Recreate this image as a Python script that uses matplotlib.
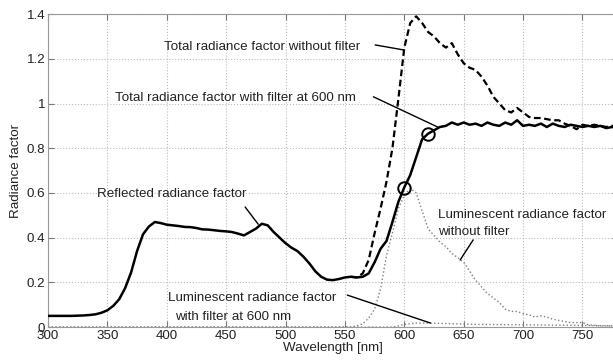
import matplotlib
matplotlib.use("Agg")
import matplotlib.pyplot as plt
from matplotlib.ticker import FormatStrFormatter

plt.rcParams['font.family'] = ['Liberation Sans', 'DejaVu Sans']

# total radiance factor with filter at 600 nm (reflected part below ~565 nm)
wl_total = list(range(300, 785, 5))
total_filter = [0.050, 0.050, 0.050, 0.050, 0.050, 0.051, 0.052, 0.054, 0.057, 0.064,
                0.075, 0.095, 0.125, 0.175, 0.245, 0.340, 0.415, 0.450, 0.470, 0.465,
                0.458, 0.455, 0.452, 0.448, 0.447, 0.443, 0.437, 0.436, 0.433, 0.430,
                0.428, 0.425, 0.418, 0.410, 0.425, 0.440, 0.462, 0.455, 0.425, 0.400,
                0.375, 0.355, 0.340, 0.315, 0.285, 0.250, 0.225, 0.212, 0.210, 0.215,
                0.222, 0.225, 0.222, 0.225, 0.240, 0.290, 0.350, 0.385, 0.470, 0.560,
                0.625, 0.680, 0.760, 0.840, 0.865, 0.880, 0.895, 0.900, 0.915, 0.905,
                0.915, 0.905, 0.910, 0.900, 0.915, 0.905, 0.900, 0.915, 0.905, 0.925,
                0.900, 0.905, 0.900, 0.910, 0.895, 0.910, 0.900, 0.895, 0.905, 0.900,
                0.895, 0.900, 0.895, 0.900, 0.890, 0.895, 0.890]

# total radiance factor without filter (equal to the reflected one below 555 nm)
wl_nofilter = list(range(555, 785, 5))
total_nofilter = [0.225, 0.222, 0.240, 0.300, 0.420, 0.530, 0.650, 0.800, 1.020, 1.250,
                  1.360, 1.390, 1.360, 1.320, 1.300, 1.270, 1.250, 1.270, 1.220, 1.180,
                  1.160, 1.150, 1.120, 1.080, 1.030, 1.000, 0.970, 0.960, 0.980, 0.960,
                  0.940, 0.935, 0.935, 0.930, 0.925, 0.925, 0.910, 0.900, 0.885, 0.905,
                  0.900, 0.905, 0.900, 0.895, 0.900, 0.895]

# luminescent radiance factor without filter
wl_lum = [300] + list(range(550, 785, 5))
lum_nofilter = [0.0, 0.0, 0.0, 0.005, 0.015, 0.04, 0.08, 0.17, 0.32, 0.42, 0.53,
                0.59, 0.62, 0.60, 0.52, 0.44, 0.41, 0.38, 0.36, 0.33, 0.31,
                0.29, 0.25, 0.21, 0.18, 0.15, 0.13, 0.11, 0.08, 0.07, 0.07,
                0.06, 0.055, 0.045, 0.05, 0.045, 0.035, 0.03, 0.025, 0.02, 0.02,
                0.02, 0.01, 0.008, 0.005, 0.005, 0.005, 0.005]

# luminescent radiance factor with filter at 600 nm
wl_lumf = [300, 590, 595, 600, 610, 620, 640, 660, 700, 740, 780]
lum_filter = [0.0, 0.0, 0.005, 0.012, 0.018, 0.018, 0.015, 0.012, 0.010, 0.008, 0.005]

# circled points
circ_wl = [600, 620]
circ_val = [0.62, 0.865]

fig = plt.figure(figsize=(6.13, 3.61), dpi=100)
ax = fig.add_axes([0.0783, 0.094, 0.93, 0.867])

ax.plot(wl_total, total_filter, color='black', lw=1.8, zorder=3)
ax.plot(wl_nofilter, total_nofilter, color='black', lw=1.6, ls=(0, (3, 1.6)), zorder=2)
ax.plot(wl_lum, lum_nofilter, color='#808080', lw=1.0, ls=':', zorder=2)
ax.plot(wl_lumf, lum_filter, color='#808080', lw=1.0, ls=':', zorder=2)
ax.plot(circ_wl, circ_val, 'o', ms=9, mfc='none', mec='black', mew=1.4, zorder=4)

tc = '#222222'
fs = 9.6
lead = dict(arrowstyle='-', color='black', lw=1.0, shrinkA=0, shrinkB=0)

ax.text(480, 1.253, 'Total radiance factor without filter', ha='center', va='center',
        fontsize=fs, color=tc)
ax.annotate('', xy=(599, 1.24), xytext=(575.5, 1.262), arrowprops=lead)

ax.text(457.5, 1.025, 'Total radiance factor with filter at 600 nm', ha='center',
        va='center', fontsize=fs, color=tc)
ax.annotate('', xy=(628, 0.895), xytext=(574, 1.03), arrowprops=lead)

ax.text(404.5, 0.595, 'Reflected radiance factor', ha='center', va='center',
        fontsize=fs, color=tc)
ax.annotate('', xy=(477, 0.46), xytext=(466, 0.537), arrowprops=lead)

ax.text(401, 0.13, 'Luminescent radiance factor', ha='left', va='center',
        fontsize=fs, color=tc)
ax.text(407, 0.045, 'with filter at 600 nm', ha='left', va='center',
        fontsize=fs, color=tc)
ax.annotate('', xy=(622, 0.018), xytext=(552, 0.143), arrowprops=lead)

ax.text(628.5, 0.50, 'Luminescent radiance factor', ha='left', va='center',
        fontsize=fs, color=tc)
ax.text(628.5, 0.425, 'without filter', ha='left', va='center',
        fontsize=fs, color=tc)
ax.annotate('', xy=(647, 0.30), xytext=(658, 0.39), arrowprops=lead)

ax.set_xlim(300, 780)
ax.set_ylim(0, 1.4)
ax.set_xticks(range(300, 800, 50))
ax.set_yticks([0, 0.2, 0.4, 0.6, 0.8, 1.0, 1.2, 1.4])
ax.yaxis.set_major_formatter(FormatStrFormatter('%g'))
ax.tick_params(direction='in', top=True, right=True, length=4, color='#777777',
               labelsize=fs, labelcolor=tc, pad=2)
for s in ax.spines.values():
    s.set_color('#999999')
ax.grid(True, ls=':', color='#bbbbbb', lw=0.8)
ax.set_axisbelow(True)

ax.set_xlabel('Wavelength [nm]', fontsize=fs, color=tc, labelpad=0)
ax.set_ylabel('Radiance factor', fontsize=fs, color=tc, labelpad=3)

fig.savefig('out.png', dpi=100)
